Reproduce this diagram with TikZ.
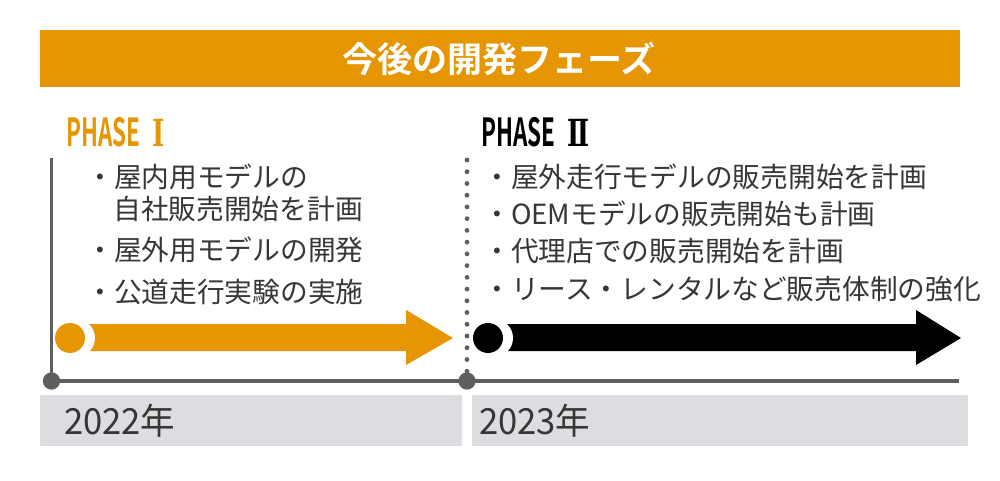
\documentclass[tikz,border=0pt]{standalone}
\usepackage{fontspec}
\newfontfamily\jp{Noto Sans CJK JP}
\newfontfamily\jpb{Noto Sans CJK JP Bold}
\newfontfamily\romb{DejaVu Serif Bold}
\definecolor{phorange}{HTML}{E69503}
\definecolor{axisgrey}{HTML}{5F5F5F}
\definecolor{boxgrey}{HTML}{DCDDE0}
\definecolor{txtgrey}{HTML}{363636}
\newcommand{\phaselbl}[1]{\scalebox{0.58}[1]{\jpb\fontsize{29pt}{30pt}\selectfont PHASE}\hspace{9pt}\scalebox{0.7}[1]{\romb\fontsize{28pt}{30pt}\selectfont #1}}
\begin{document}
\begin{tikzpicture}[x=0.75pt,y=-0.75pt,
  bodytext/.style={font=\jp\fontsize{20.8pt}{24pt}\selectfont, text=txtgrey, inner sep=0pt, anchor=west},
  phaselabel/.style={inner sep=0pt, anchor=west},
  yeartext/.style={font=\jp\fontsize{27pt}{30pt}\selectfont, text=txtgrey, inner sep=0pt, anchor=west},
  yearbox/.style={fill=boxgrey, draw=none},
  axisline/.style={draw=axisgrey, line width=2.3pt},
  axisdot/.style={circle, fill=axisgrey, minimum size=13pt, inner sep=0pt}]
\useasboundingbox (0,0) rectangle (1000,481);
% title bar
\fill[phorange] (40,30) rectangle (960,87);
\node[font=\jpb\fontsize{26.3pt}{30pt}\selectfont, text=white, inner sep=0pt] (title) at (499,59) {今後の開発フェーズ};
% phase labels
\node[phaselabel, text=phorange] (p1) at (66,132) {\phaselbl{Ⅰ}};
\node[phaselabel, text=black] (p2) at (481,132) {\phaselbl{Ⅱ}};
% year boxes
\fill[yearbox] (40,395) rectangle (462,446);
\fill[yearbox] (472,395) rectangle (968,446);
\node[yeartext] (y1) at (64,421) {\scalebox{0.96}[1]{2022年}};
\node[yeartext] (y2) at (479,421) {\scalebox{0.96}[1]{2023年}};
% axes
\coordinate (o1) at (51.5,381);
\coordinate (o2) at (467,381);
\coordinate (top1) at (51.5,158);
\coordinate (top2) at (467,160);
\coordinate (xend) at (959,381);
\draw[axisline] (top1) -- (o1) -- (xend);
\draw[axisgrey, line width=3.6pt, line cap=round, dash pattern=on 0pt off 8.8pt] (top2) -- (o2);
\node[axisdot] (d1) at (o1) {};
\node[axisdot] (d2) at (o2) {};
% bullets left
\node[bodytext] (l1) at (86,177) {・屋内用モデルの};
\node[bodytext] (l1b) at (113,209) {自社販売開始を計画};
\node[bodytext] (l2) at (86,250) {・屋外用モデルの開発};
\node[bodytext] (l3) at (86,292) {・公道走行実験の実施};
% bullets right
\node[bodytext] (r1) at (483,177) {・屋外走行モデルの販売開始を計画};
\node[bodytext] (r2) at (483,214) {・OEMモデルの販売開始も計画};
\node[bodytext] (r3) at (483,251) {・代理店での販売開始を計画};
\node[bodytext] (r4) at (483,289) {・リース・レンタルなど販売体制の強化};
% orange arrow
\fill[phorange] (78,324) -- (406,324) -- (406,310) -- (453,338) -- (406,365) -- (406,351) -- (78,351) -- cycle;
\fill[white] (76,338) circle (19);
\node[circle, fill=phorange, minimum size=22.5pt, inner sep=0pt] (c1) at (70,338) {};
% black arrow
\fill[black] (496,324) -- (916,324) -- (916,310) -- (961,338) -- (916,365) -- (916,351) -- (496,351) -- cycle;
\fill[white] (494,338) circle (19);
\node[circle, fill=black, minimum size=22.5pt, inner sep=0pt] (c2) at (488,338) {};
\end{tikzpicture}
\end{document}
